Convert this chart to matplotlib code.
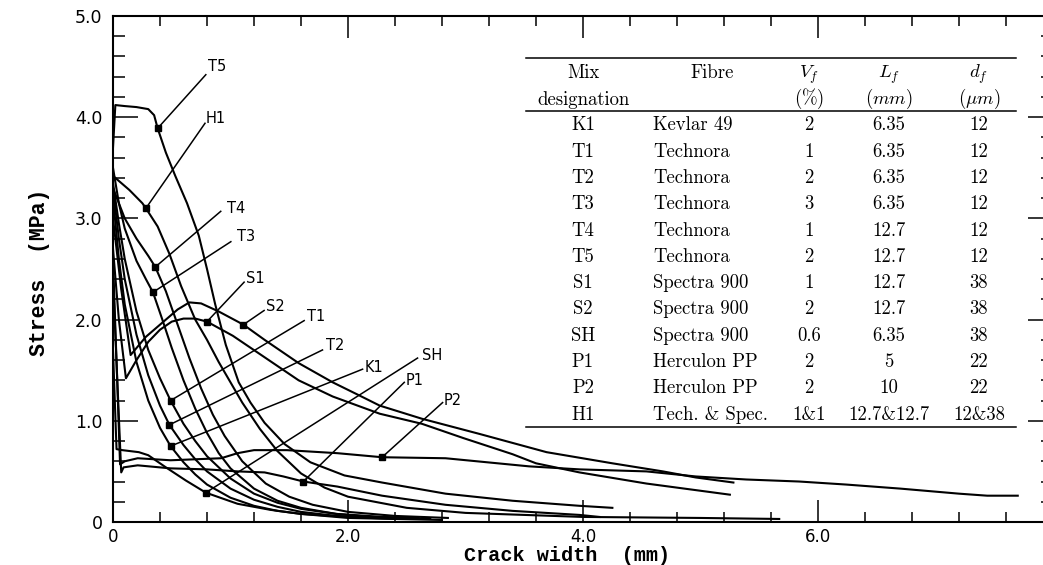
import numpy as np
import matplotlib.pyplot as plt
from matplotlib.ticker import MultipleLocator, FuncFormatter
from matplotlib.lines import Line2D

plt.rcParams['mathtext.fontset'] = 'cm'
plt.rcParams['axes.unicode_minus'] = False

# crack width (mm) and stress (MPa)
k1_w = [0, 0.05, 0.1, 0.2, 0.3, 0.4, 0.49, 0.6, 0.7, 0.8, 1.0, 1.2, 1.4, 1.6, 2.0, 2.4]
k1_s = [3.2, 2.6, 2.15, 1.58, 1.2, 0.93, 0.75, 0.59, 0.47, 0.37, 0.24, 0.16, 0.11, 0.08, 0.04, 0.03]

t1_w = [0, 0.05, 0.1, 0.2, 0.3, 0.4, 0.49, 0.6, 0.7, 0.8, 1.0, 1.2, 1.4, 1.6, 1.9, 2.2, 2.7]
t1_s = [3.35, 2.95, 2.6, 2.08, 1.7, 1.42, 1.2, 0.97, 0.8, 0.65, 0.43, 0.28, 0.19, 0.13, 0.08, 0.05, 0.03]

t2_w = [0, 0.05, 0.1, 0.2, 0.3, 0.4, 0.48, 0.6, 0.7, 0.8, 1.0, 1.2, 1.4, 1.6, 1.9, 2.3]
t2_s = [3.3, 2.8, 2.4, 1.85, 1.45, 1.15, 0.96, 0.76, 0.62, 0.5, 0.33, 0.22, 0.15, 0.1, 0.06, 0.04]

t3_w = [0, 0.05, 0.1, 0.2, 0.28, 0.34, 0.42, 0.5, 0.6, 0.7, 0.8, 0.9, 1.0, 1.2, 1.4, 1.6, 1.9, 2.3, 2.6]
t3_s = [3.5, 3.15, 2.9, 2.58, 2.4, 2.27, 2.0, 1.72, 1.4, 1.12, 0.88, 0.68, 0.53, 0.33, 0.21, 0.14, 0.08, 0.05, 0.04]

t4_w = [0, 0.1, 0.2, 0.3, 0.36, 0.45, 0.55, 0.65, 0.75, 0.85, 0.95, 1.1, 1.3, 1.5, 1.7, 2.0, 2.4, 2.85]
t4_s = [3.3, 3.0, 2.8, 2.63, 2.52, 2.28, 1.95, 1.62, 1.32, 1.06, 0.85, 0.6, 0.38, 0.25, 0.17, 0.1, 0.06, 0.04]

t5_w = [0, 0.02, 0.1, 0.2, 0.3, 0.35, 0.38, 0.45, 0.53, 0.63, 0.73, 0.8, 0.87, 0.96, 1.07, 1.17,
        1.29, 1.46, 1.68, 1.97, 2.29, 2.83, 3.4, 3.97, 4.25]
t5_s = [3.7, 4.12, 4.11, 4.1, 4.08, 4.02, 3.89, 3.65, 3.42, 3.15, 2.83, 2.5, 2.15, 1.75, 1.38, 1.18,
        0.98, 0.77, 0.59, 0.46, 0.39, 0.28, 0.21, 0.16, 0.14]

s1_w = [0, 0.05, 0.11, 0.2, 0.3, 0.4, 0.5, 0.6, 0.7, 0.8, 1.02, 1.3, 1.58, 1.87, 2.27, 2.63, 2.98,
        3.4, 3.6, 3.97, 4.54, 5.25]
s1_s = [2.7, 2.0, 1.42, 1.6, 1.78, 1.9, 1.98, 2.01, 2.01, 1.98, 1.84, 1.62, 1.4, 1.24, 1.07, 0.97, 0.83,
        0.67, 0.58, 0.49, 0.38, 0.27]

s2_w = [0, 0.07, 0.15, 0.28, 0.45, 0.55, 0.65, 0.75, 0.9, 1.11, 1.29, 1.58, 1.87, 2.08, 2.27, 2.63,
        3.12, 3.69, 4.25, 4.68, 4.96, 5.28]
s2_s = [3.0, 2.3, 1.65, 1.83, 2.0, 2.1, 2.17, 2.16, 2.08, 1.95, 1.8, 1.57, 1.38, 1.26, 1.15, 1.02,
        0.87, 0.69, 0.58, 0.5, 0.44, 0.39]

sh_w = [0, 0.03, 0.08, 0.22, 0.3, 0.45, 0.62, 0.79, 1.06, 1.34, 1.6, 2.0, 2.4, 2.8]
sh_s = [1.7, 0.72, 0.71, 0.69, 0.66, 0.54, 0.41, 0.29, 0.18, 0.12, 0.08, 0.05, 0.03, 0.02]

p1_w = [0, 0.07, 0.09, 0.21, 0.49, 0.8, 1.06, 1.29, 1.45, 1.62, 1.91, 2.29, 2.83, 3.4, 3.97, 4.14]
p1_s = [2.4, 0.49, 0.54, 0.56, 0.53, 0.52, 0.5, 0.49, 0.45, 0.4, 0.35, 0.26, 0.17, 0.11, 0.07, 0.05]

p2_w = [0, 0.06, 0.1, 0.21, 0.49, 0.92, 1.06, 1.2, 1.48, 1.91, 2.29, 2.83, 3.54, 3.97, 4.54, 4.96,
        5.39, 5.84, 6.24, 6.7, 7.2, 7.44, 7.7]
p2_s = [2.6, 0.57, 0.6, 0.63, 0.61, 0.63, 0.68, 0.71, 0.71, 0.68, 0.64, 0.63, 0.55, 0.52, 0.5, 0.45,
        0.42, 0.4, 0.37, 0.33, 0.28, 0.26, 0.26]

h1_w = [0, 0.14, 0.25, 0.28, 0.38, 0.48, 0.58, 0.7, 0.8, 0.9, 1.0, 1.1, 1.25, 1.4, 1.6, 1.8, 2.0,
        2.5, 3.0, 4.0, 5.0, 5.67]
h1_s = [3.42, 3.28, 3.15, 3.1, 2.92, 2.65, 2.33, 2.0, 1.8, 1.58, 1.38, 1.18, 0.92, 0.7, 0.48, 0.34, 0.25,
        0.14, 0.09, 0.05, 0.04, 0.03]

# curve names, marker points on the curves, tag text centres and leader ends
names = ['K1', 'T1', 'T2', 'T3', 'T4', 'T5', 'S1', 'S2', 'SH', 'P1', 'P2', 'H1']
mark_w = [0.49, 0.49, 0.48, 0.34, 0.36, 0.38, 0.8, 1.11, 0.79, 1.62, 2.29, 0.28]
mark_s = [0.75, 1.2, 0.96, 2.27, 2.52, 3.89, 1.98, 1.95, 0.29, 0.4, 0.64, 3.1]
tag_w = [2.223, 1.726, 1.891, 1.130, 1.045, 0.886, 1.215, 1.380, 2.720, 2.564, 2.890, 0.875]
tag_s = [1.53, 2.03, 1.74, 2.82, 3.10, 4.50, 2.41, 2.13, 1.65, 1.40, 1.20, 3.99]
lead_w = [2.124, 1.627, 1.783, 1.003, 0.917, 0.790, 1.116, 1.286, 2.592, 2.479, 2.805, 0.783]
lead_s = [1.51, 1.99, 1.70, 2.77, 3.07, 4.42, 2.37, 2.09, 1.62, 1.38, 1.18, 3.94]

# table
mix = ['K1', 'T1', 'T2', 'T3', 'T4', 'T5', 'S1', 'S2', 'SH', 'P1', 'P2', 'H1']
fibre = ['Kevlar 49', 'Technora', 'Technora', 'Technora', 'Technora', 'Technora',
         'Spectra 900', 'Spectra 900', 'Spectra 900', 'Herculon PP', 'Herculon PP', 'Tech. & Spec.']
vf = ['2', '1', '2', '3', '1', '2', '1', '2', '0.6', '2', '2', '1&1']
lf = ['6.35', '6.35', '6.35', '6.35', '12.7', '12.7', '12.7', '12.7', '6.35', '5', '10', '12.7&12.7']
df = ['12', '12', '12', '12', '12', '12', '38', '38', '38', '22', '22', '12&38']

W, H = 1043, 565
fig = plt.figure(figsize=(W / 100, H / 100), dpi=100)
ax = fig.add_axes([113 / W, 43 / H, 940 / W, 506 / H])

curves = [(k1_w, k1_s), (t1_w, t1_s), (t2_w, t2_s), (t3_w, t3_s), (t4_w, t4_s), (t5_w, t5_s),
          (s1_w, s1_s), (s2_w, s2_s), (sh_w, sh_s), (p1_w, p1_s), (p2_w, p2_s), (h1_w, h1_s)]
for w, s in curves:
    ax.plot(w, s, color='black', lw=1.5, solid_joinstyle='round')

for i in range(len(names)):
    ax.plot([mark_w[i], lead_w[i]], [mark_s[i], lead_s[i]], color='black', lw=1.1)
    ax.text(tag_w[i], tag_s[i], names[i], ha='center', va='center', fontsize=10.5,
            family='DejaVu Sans')
ax.plot(mark_w, mark_s, 's', color='black', ms=4.5, ls='none')

ax.set_xlim(0, 8)
ax.set_ylim(0, 5)
ax.xaxis.set_major_locator(MultipleLocator(2.0))
ax.xaxis.set_minor_locator(MultipleLocator(0.4))
ax.yaxis.set_major_locator(MultipleLocator(1.0))
ax.yaxis.set_minor_locator(MultipleLocator(0.2))


def fmt_x(v, pos):
    if v == 0:
        return '0'
    if v > 7:
        return ''
    return '%.1f' % v


def fmt_y(v, pos):
    return '0' if v == 0 else '%.1f' % v


ax.xaxis.set_major_formatter(FuncFormatter(fmt_x))
ax.yaxis.set_major_formatter(FuncFormatter(fmt_y))
ax.tick_params(axis='both', which='both', direction='in', top=True, right=True, width=1.1)
ax.tick_params(axis='x', which='major', length=16, pad=4.5, labelsize=12)
ax.tick_params(axis='x', which='minor', length=7)
ax.tick_params(axis='y', which='major', length=18, pad=7.5, labelsize=12.5)
ax.tick_params(axis='y', which='minor', length=8.5)
for sp in ax.spines.values():
    sp.set_linewidth(1.5)

ax.set_xlabel('Crack width  (mm)', family='Liberation Mono', fontweight='bold', fontsize=14.5,
              va='baseline')
ax.set_ylabel('Stress  (MPa)', family='Liberation Mono', fontweight='bold', fontsize=15.5)
ax.xaxis.set_label_coords((567 - 113) / 940, (522 - 561) / 506)
ax.yaxis.set_label_coords((50 - 113) / 940, 0.494)


# table, placed in pixel positions of the figure
def put(x, y, s, ha='center', **kw):
    fig.text(x / W, 1 - (y + 6) / H, s, ha=ha, va='baseline', fontsize=13.5,
             family=['cmr10', 'DejaVu Serif'], **kw)


def rule(y):
    fig.add_artist(Line2D([526 / W, 1016 / W], [1 - y / H, 1 - y / H], color='black', lw=1.1))


rule(58)
rule(111)
rule(427)
put(583, 72, 'Mix')
put(583, 99, 'designation')
put(712, 72, 'Fibre')
put(809, 72, r'$V_f$')
put(809, 98, r'$(\%)$')
put(889, 72, r'$L_f$')
put(889, 98, r'$(mm)$')
put(979, 72, r'$d_f$')
put(979, 98, r'$(\mu m)$')
row_y = 124.4
for i in range(len(mix)):
    y = row_y + i * 26.3
    put(583, y, mix[i])
    put(653, y, fibre[i], ha='left')
    put(809, y, vf[i])
    put(889, y, lf[i])
    put(979, y, df[i])

fig.savefig('out.png', dpi=100)
